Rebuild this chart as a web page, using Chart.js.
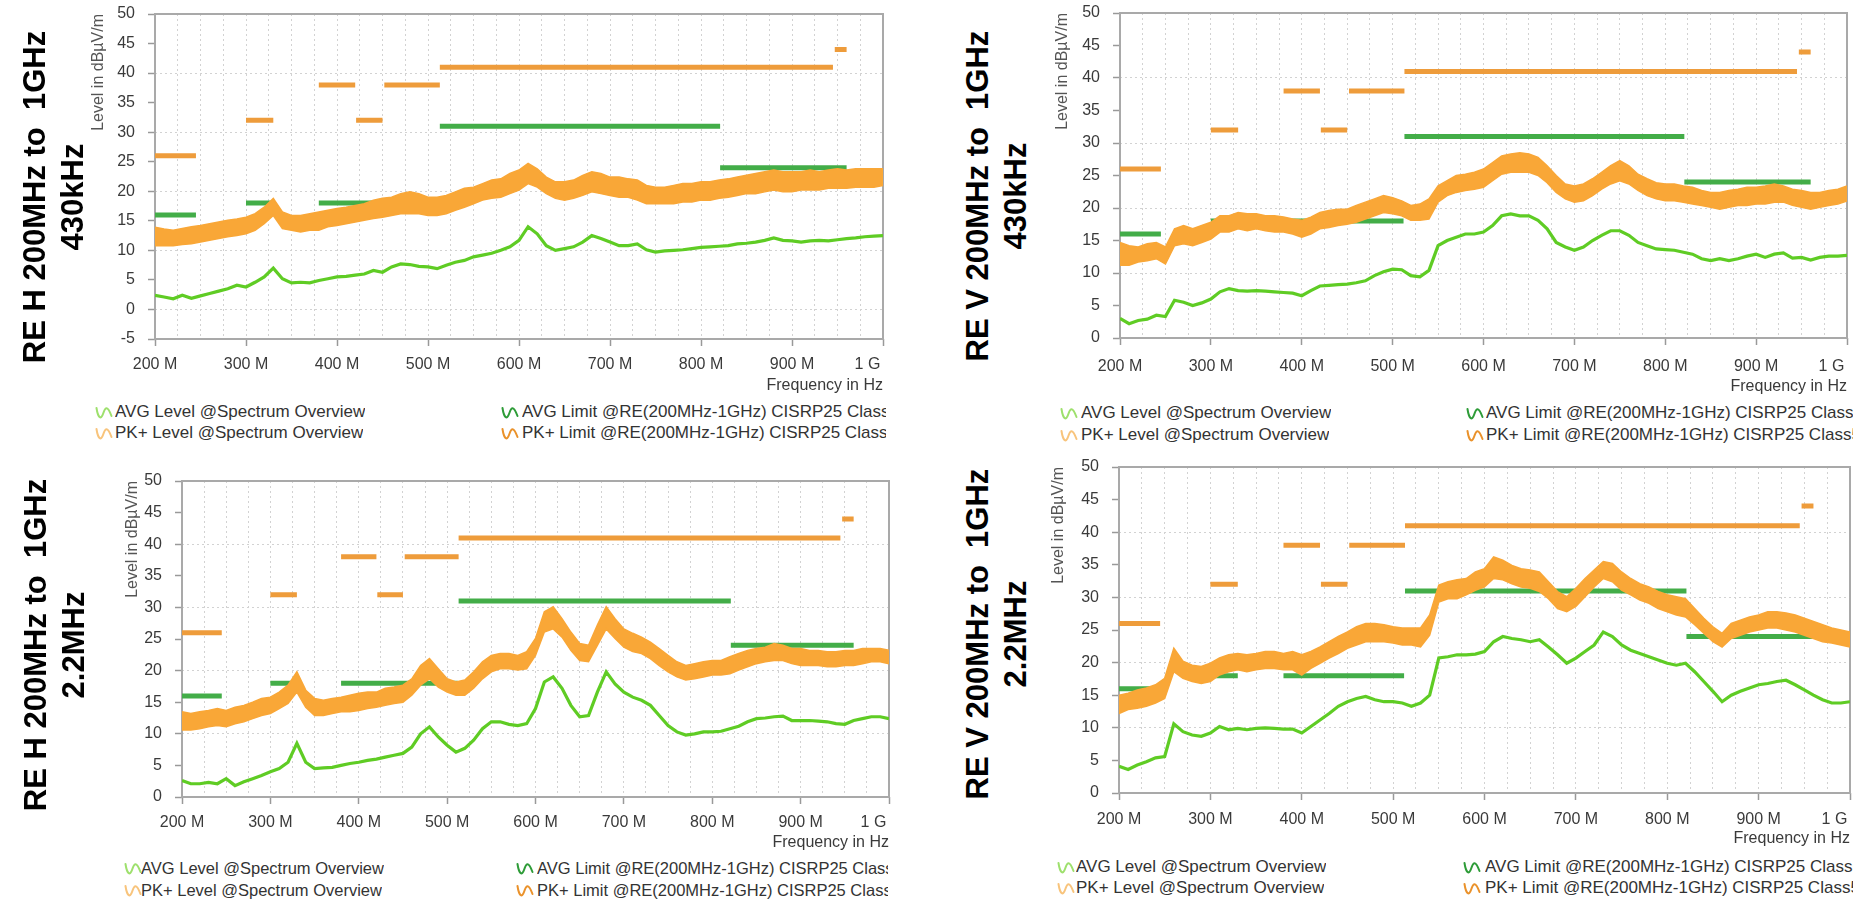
<!DOCTYPE html>
<html>
<head>
<meta charset="utf-8">
<script src="https://cdn.jsdelivr.net/npm/chart.js@4.4.1/dist/chart.umd.min.js"></script>
<style>
  html, body { margin: 0; padding: 0; background: #fff; width: 1856px; height: 915px; overflow: hidden; }
  canvas { position: absolute; }
  .ttl { position: absolute; font: bold 31px 'Liberation Sans', Arial, sans-serif; line-height: 38px;
         color: #000; text-align: center; white-space: pre; transform: translate(-50%, -50%) rotate(-90deg); }
  .leg { position: absolute; font-family: 'Liberation Sans', Arial, sans-serif; line-height: 20px; color: #333;
         white-space: pre; overflow: hidden; }
  .ico { position: absolute; }
</style>
</head>
<body>
<script>
// ---------------- data ----------------
const freqMHz = [200,210,220,230,240,250,260,270,280,290,300,310,320,330,340,350,360,370,380,390,
  400,410,420,430,440,450,460,470,480,490,500,510,520,530,540,550,560,570,580,590,
  600,610,620,630,640,650,660,670,680,690,700,710,720,730,740,750,760,770,780,790,
  800,810,820,830,840,850,860,870,880,890,900,910,920,930,940,950,960,970,980,990,1000];

const xTickMHz = [200,300,400,500,600,700,800,900,1000];

// limit lines: [start MHz, stop MHz, level dBuV/m]
const pkLimitSegs  = [[200,245,26],[300,330,32],[380,420,38],[421,450,32],[452,513,38],[513,945,41],[947,960,44]];
const avgLimitSegs = [[200,245,16],[300,330,18],[380,512,18],[513,821,31],[821,960,24]];

// RE H 430kHz
const p1PkHi = [13.9,13.6,13.4,13.7,14.0,14.2,14.5,14.8,15.1,15.3,15.6,16.2,17.3,18.8,16.5,15.9,15.9,16.2,16.5,16.8,
  17.1,17.3,17.6,17.9,18.5,18.8,19.0,19.6,19.9,19.6,19.0,19.0,19.3,19.9,20.5,20.7,21.3,21.9,22.1,23.0,
  23.6,24.7,23.8,22.4,21.6,21.6,21.9,22.7,23.3,23.0,22.4,22.4,22.1,21.9,21.0,20.7,20.7,21.0,21.3,21.3,
  21.6,21.6,21.9,22.1,22.4,22.7,23.0,23.3,23.6,23.3,23.3,23.3,23.6,23.3,23.6,23.8,23.6,23.8,23.8,23.8,23.8];
const p1PkLo = [10.8,10.8,10.8,11.0,11.1,11.4,11.7,12.0,12.3,12.5,12.8,13.4,14.5,15.9,13.7,13.4,13.1,13.4,13.4,14.0,
  14.2,14.5,14.8,15.1,15.4,15.6,15.9,16.2,16.2,16.2,15.9,15.9,16.2,16.8,17.3,17.9,18.5,18.8,19.0,19.6,
  20.2,21.3,20.7,19.6,18.8,18.5,18.8,19.3,19.9,19.6,19.3,19.0,19.0,18.5,17.9,17.9,17.9,17.9,18.2,18.2,
  18.5,18.5,18.8,19.0,19.3,19.6,19.6,19.9,20.2,19.9,19.9,20.2,20.2,20.2,20.5,20.5,20.5,20.7,20.7,20.7,21.0];
const p1Avg = [2.4,2.1,1.8,2.4,1.9,2.3,2.7,3.1,3.5,4.1,3.8,4.6,5.5,7.0,5.2,4.5,4.6,4.5,4.9,5.2,
  5.5,5.6,5.8,6.0,6.6,6.3,7.2,7.7,7.6,7.3,7.2,6.9,7.5,8.0,8.3,8.9,9.2,9.5,10.0,10.6,
  11.7,14.0,12.8,10.8,10.0,10.3,10.6,11.4,12.5,12.0,11.4,10.8,10.8,11.1,10.1,9.7,9.9,10.0,10.1,10.3,
  10.5,10.6,10.7,10.8,11.1,11.2,11.4,11.7,12.1,11.7,11.6,11.4,11.6,11.7,11.6,11.8,12.0,12.1,12.3,12.4,12.5];

// RE V 430kHz
const p2PkHi = [14.7,14.2,14.0,14.5,14.7,14.0,16.8,17.3,16.8,17.3,17.8,18.8,18.8,19.3,19.1,19.1,18.8,18.8,18.6,18.3,
  18.1,18.6,19.3,19.6,19.8,19.8,20.4,20.9,21.4,21.9,21.6,21.1,20.4,20.6,21.4,23.4,24.2,25.0,25.2,25.5,
  26.0,27.0,28.0,28.3,28.5,28.3,27.8,26.5,25.0,23.7,23.4,23.7,24.5,25.5,26.5,27.3,26.5,25.2,24.5,23.9,
  23.7,23.7,23.4,23.2,22.7,22.4,22.4,22.7,22.9,23.2,23.2,23.4,23.7,23.4,22.9,22.7,22.4,22.4,22.7,22.9,23.4];
const p2PkLo = [11.2,11.2,11.7,11.9,12.2,11.4,14.2,14.5,14.2,14.7,15.2,16.3,16.3,16.8,16.5,16.8,16.5,16.3,16.3,16.0,
  15.5,16.0,16.8,17.0,17.3,17.5,17.8,18.3,18.8,19.3,19.1,18.8,18.1,18.1,18.3,20.9,21.9,22.4,22.7,22.9,
  23.2,24.2,25.2,25.5,25.5,25.5,25.0,23.9,22.4,21.4,20.9,21.1,21.9,22.9,23.7,24.2,23.7,22.7,21.9,21.4,
  21.1,21.1,20.9,20.6,20.4,20.1,19.8,20.1,20.4,20.4,20.6,20.6,20.9,20.9,20.4,20.1,19.8,20.1,20.4,20.6,21.1];
const p2Avg = [3.0,2.2,2.7,2.9,3.5,3.3,5.8,5.5,5.0,5.4,6.0,7.1,7.6,7.3,7.2,7.3,7.2,7.1,7.0,6.9,
  6.5,7.3,8.0,8.1,8.2,8.3,8.5,8.8,9.6,10.2,10.6,10.5,9.6,9.4,10.4,14.2,15.0,15.5,16.0,16.0,
  16.3,17.3,18.8,19.1,18.8,18.8,18.1,16.8,14.7,14.0,13.5,14.0,15.0,15.8,16.5,16.5,15.8,14.7,14.2,13.7,
  13.6,13.5,13.2,12.9,12.2,11.9,12.2,11.9,12.2,12.6,12.9,12.4,12.9,13.1,12.3,12.4,12.0,12.4,12.6,12.6,12.7];

// RE H 2.2MHz
const p3PkHi = [13.5,13.2,13.5,13.7,14.0,13.7,14.2,14.5,15.0,15.6,15.8,16.6,17.7,19.8,16.9,15.6,15.3,15.6,15.8,16.1,
  16.4,16.6,16.6,17.2,17.4,17.7,18.7,20.8,21.9,20.3,18.7,18.2,18.5,19.8,21.4,22.4,22.7,22.7,22.4,23.0,
  25.1,29.3,30.1,28.2,26.1,24.3,24.0,27.2,30.1,28.2,26.6,25.9,25.3,24.5,23.5,22.4,21.4,20.8,21.1,21.4,
  21.6,21.6,22.2,22.7,23.2,23.5,23.7,24.3,24.0,23.5,23.5,23.2,23.2,23.0,23.0,23.2,23.2,23.5,23.5,23.5,23.2];
const p3PkLo = [10.6,10.6,10.8,11.1,11.3,11.1,11.6,11.9,12.4,12.9,13.2,14.0,14.8,16.6,14.2,12.9,12.9,13.2,13.5,13.5,
  13.7,14.0,14.2,14.5,14.8,15.0,16.1,17.7,18.7,17.4,16.6,16.1,16.1,17.2,18.7,19.8,20.3,20.3,20.1,20.3,
  22.4,26.1,26.6,25.3,23.2,21.6,21.4,24.0,26.6,25.1,23.7,23.0,22.7,21.9,20.8,19.8,19.0,18.5,18.7,19.0,
  19.3,19.3,19.5,20.1,20.6,21.1,21.4,21.6,21.6,21.1,20.8,20.8,20.8,20.6,20.6,20.8,20.8,21.1,21.4,21.4,21.1];
const p3Avg = [2.6,2.1,2.1,2.3,2.1,2.9,1.8,2.4,2.9,3.4,4.0,4.5,5.5,8.5,5.5,4.5,4.6,4.7,5.0,5.3,
  5.5,5.8,6.0,6.3,6.6,6.9,7.9,10.0,11.1,9.5,8.2,7.1,7.7,9.0,10.8,11.9,11.9,11.5,11.3,11.6,
  14.0,18.2,19.0,17.2,14.5,12.7,12.9,16.6,19.8,17.9,16.6,15.8,15.3,14.5,12.9,11.3,10.3,9.8,10.0,10.3,
  10.3,10.4,10.8,11.2,11.9,12.4,12.5,12.7,12.8,12.1,12.1,12.1,12.0,11.9,11.6,11.5,12.1,12.4,12.7,12.7,12.4];

// RE V 2.2MHz
const p4PkHi = [15.0,15.3,15.8,16.1,16.6,17.6,22.2,20.2,19.6,19.4,19.9,20.7,21.2,21.4,21.2,21.4,21.7,21.7,21.4,21.7,
  21.2,21.7,22.4,23.2,24.0,24.7,25.5,26.0,26.0,25.8,25.5,25.3,25.3,25.3,27.3,31.9,32.4,32.7,32.9,33.9,
  34.4,36.2,35.7,34.9,34.4,34.2,33.9,32.4,30.9,30.1,31.4,32.9,34.2,35.5,35.2,33.9,32.9,32.1,31.6,30.9,
  30.4,30.1,29.8,28.3,26.8,25.5,24.5,26.0,26.5,27.0,27.3,27.8,27.8,27.6,27.3,26.8,26.3,25.8,25.3,25.0,24.7];
const p4PkLo = [12.2,12.8,13.0,13.3,13.8,14.5,18.6,17.6,17.1,16.8,17.1,18.1,18.6,18.9,18.6,18.9,19.1,19.1,18.9,18.9,
  18.1,19.1,19.9,20.7,21.4,22.2,22.7,23.2,23.2,23.2,23.0,22.7,22.7,22.4,24.2,29.3,29.8,29.8,30.4,31.1,
  31.6,32.9,32.7,32.1,31.6,31.4,30.9,29.8,28.3,27.8,28.6,30.1,31.6,32.9,32.4,31.1,30.4,29.6,29.1,28.3,
  27.8,27.3,27.0,25.8,24.5,23.2,22.4,23.7,24.2,24.7,25.0,25.3,25.3,25.0,24.7,24.2,23.7,23.2,23.0,22.7,22.4];
const p4Avg = [4.1,3.6,4.3,4.8,5.4,5.6,10.6,9.4,8.9,8.7,9.2,10.2,9.7,9.9,9.7,9.9,10.0,9.9,9.8,9.8,
  9.2,10.2,11.2,12.2,13.3,14.0,14.5,14.8,14.3,14.0,14.0,13.8,13.3,13.8,15.0,20.7,20.9,21.2,21.2,21.3,
  21.7,23.2,24.0,23.7,23.5,23.2,23.5,22.4,21.2,19.9,20.7,21.7,22.7,24.7,24.0,22.7,21.9,21.4,20.9,20.4,
  19.9,19.6,19.9,18.6,17.1,15.6,14.0,15.0,15.6,16.1,16.6,16.8,17.1,17.3,16.6,15.8,15.0,14.3,13.8,13.8,14.0];

const panelTitles = [["RE H 200MHz to  1GHz","430kHz"],["RE V 200MHz to  1GHz","430kHz"],
                     ["RE H 200MHz to  1GHz","2.2MHz"],["RE V 200MHz to  1GHz","2.2MHz"]];
const legendLeft  = ["AVG Level @Spectrum Overview","PK+ Level @Spectrum Overview"];
const legendRight = ["AVG Limit @RE(200MHz-1GHz) CISRP25 Class5","PK+ Limit @RE(200MHz-1GHz) CISRP25 Class5"];

// ---------------- layout (pixel geometry only) ----------------
const layout = [
  {l:155, t:14, r:883, b:339, ymin:-5, yTitleCx:99, xLabDy:26, xTitDy:46,
   ttl:{x:54, y:197}, legY:[412,433], legIcoL:95, legTxtL:115, legIcoR:501, legTxtR:522, legClip:886, legFs:17},
  {l:1120, t:13, r:1847, b:338, ymin:0, yTitleCx:1063, xLabDy:29, xTitDy:48,
   ttl:{x:997, y:196}, legY:[413,435], legIcoL:1060, legTxtL:1081, legIcoR:1466, legTxtR:1486, legClip:1853, legFs:17},
  {l:182, t:481, r:889, b:797, ymin:0, yTitleCx:133, xLabDy:26, xTitDy:45,
   ttl:{x:55, y:645}, legY:[868,890], legIcoL:124, legTxtL:141, legIcoR:516, legTxtR:537, legClip:888, legFs:16.5},
  {l:1119, t:467, r:1850, b:793, ymin:0, yTitleCx:1059, xLabDy:27, xTitDy:45,
   ttl:{x:997, y:634}, legY:[867,888], legIcoL:1057, legTxtL:1076, legIcoR:1463, legTxtR:1485, legClip:1853, legFs:17}
];
const series = [[p1PkHi,p1PkLo,p1Avg],[p2PkHi,p2PkLo,p2Avg],[p3PkHi,p3PkLo,p3Avg],[p4PkHi,p4PkLo,p4Avg]];

const C = { pk:'#f9a737', avg:'#5fcc24', pkLim:'#ee9c3b', avgLim:'#43ad48', grid:'#d2d2d2', frame:'#a9a9a9', text:'#3a3a3a' };
const FONT = "'Liberation Sans', Arial, sans-serif";

function pts(arr) { return freqMHz.map((f, i) => ({x: f, y: arr[i]})); }
function segPts(segs) {
  const out = [];
  segs.forEach(([a, b, v]) => { out.push({x: a, y: v}, {x: b, y: v}, {x: b, y: null}); });
  return out;
}

const framePlugin = {
  id: 'frame',
  beforeDatasetsDraw(chart) {
    const {ctx, chartArea: a} = chart;
    ctx.save();
    ctx.strokeStyle = C.frame; ctx.lineWidth = 2;
    ctx.strokeRect(a.left, a.top, a.right - a.left, a.bottom - a.top);
    ctx.restore();
  }
};

function waveSvg(color) {
  return '<svg width="18" height="20" viewBox="0 0 18 20"><path d="M1.5 6 C3 16, 6 18, 8 12 S12 2, 16.5 14" fill="none" stroke="' +
    color + '" stroke-width="2" stroke-linecap="round"/></svg>';
}

function addDiv(cls, html, style) {
  const d = document.createElement('div');
  d.className = cls; d.innerHTML = html;
  Object.assign(d.style, style);
  document.body.appendChild(d);
  return d;
}

layout.forEach((L, i) => {
  const [pkHi, pkLo, avg] = series[i];
  const Wy = Math.round(L.l - L.yTitleCx + 9.6);
  const Hx = Math.round(L.xTitDy + 9.6);
  const padTop = 10;
  const x0 = L.l - Wy, y0 = L.t - padTop;
  const padRight = Math.min(8, 1856 - L.r);
  const cw = L.r - x0 + padRight;
  const ch = L.b - y0 + Hx;

  const cv = document.createElement('canvas');
  cv.width = cw; cv.height = ch;
  cv.style.left = x0 + 'px'; cv.style.top = y0 + 'px';
  cv.style.width = cw + 'px'; cv.style.height = ch + 'px';
  document.body.appendChild(cv);

  const zeroPad = s => { s.paddingLeft = 0; s.paddingRight = 0; s.paddingTop = 0; s.paddingBottom = 0; };

  new Chart(cv, {
    type: 'line',
    data: {
      datasets: [
        {label: 'PK+ Level lower', data: pts(pkLo), borderColor: C.pk, borderWidth: 1.5, pointRadius: 0, fill: false},
        {label: 'PK+ Level @Spectrum Overview', data: pts(pkHi), borderColor: C.pk, borderWidth: 1.5, pointRadius: 0,
         fill: '-1', backgroundColor: C.pk},
        {label: 'AVG Level @Spectrum Overview', data: pts(avg), borderColor: C.avg, borderWidth: 3.2, pointRadius: 0, fill: false},
        {label: 'AVG Limit', data: segPts(avgLimitSegs), borderColor: C.avgLim, borderWidth: 5, pointRadius: 0, fill: false, spanGaps: false},
        {label: 'PK+ Limit', data: segPts(pkLimitSegs), borderColor: C.pkLim, borderWidth: 5, pointRadius: 0, fill: false, spanGaps: false}
      ]
    },
    options: {
      responsive: false, animation: false, devicePixelRatio: 1,
      layout: {padding: {left: 0, top: padTop, right: padRight, bottom: 0}},
      elements: {line: {tension: 0, borderCapStyle: 'butt'}},
      plugins: {legend: {display: false}, tooltip: {enabled: false}},
      scales: {
        x: {
          type: 'linear', min: 200, max: 1000, position: 'bottom',
          afterFit: s => { s.height = Hx; zeroPad(s); },
          ticks: {
            stepSize: 25, autoSkip: false, maxRotation: 0, minRotation: 0,
            padding: L.xLabDy - 7 - 9.6, color: C.text, font: {family: FONT, size: 16},
            callback: v => xTickMHz.includes(v) ? (v === 1000 ? '1 G\u00a0\u00a0\u00a0\u00a0\u00a0\u00a0\u00a0' : v + ' M') : ''
          },
          grid: {color: C.grid, lineWidth: 1, tickLength: 7, tickWidth: 1.5,
                 tickColor: c => (c.tick && xTickMHz.includes(c.tick.value)) ? '#999' : 'rgba(0,0,0,0)'},
          border: {display: false, dash: [2, 3]},
          title: {display: true, text: 'Frequency in Hz', align: 'end', padding: 0, color: C.text, font: {family: FONT, size: 16}}
        },
        y: {
          type: 'linear', min: L.ymin, max: 50,
          afterFit: s => { s.width = Wy; zeroPad(s); },
          ticks: {stepSize: 5, autoSkip: false, padding: 13, color: C.text, font: {family: FONT, size: 16}},
          grid: {color: c => (c.tick && c.tick.value % 10 === 0) ? C.grid : 'rgba(0,0,0,0)',
                 lineWidth: 1, tickLength: 7, tickWidth: 1.5, tickColor: '#999'},
          border: {display: false, dash: [2, 3]},
          title: {display: true, text: 'Level in dB\u00b5V/m', align: 'end', padding: 0, color: '#555', font: {family: FONT, size: 16}}
        }
      }
    },
    plugins: [framePlugin]
  });

  // rotated panel title
  addDiv('ttl', panelTitles[i][0] + '\n' + panelTitles[i][1], {left: L.ttl.x + 'px', top: L.ttl.y + 'px'});

  // legend
  const icoCols = [['#9ee06d', '#f8c47c'], ['#2e9c38', '#ea922b']];
  [0, 1].forEach(r => {
    const y = L.legY[r] - 10;
    addDiv('ico', waveSvg(icoCols[0][r]), {left: L.legIcoL + 'px', top: y + 'px'});
    addDiv('leg', legendLeft[r], {left: L.legTxtL + 'px', top: y + 'px', fontSize: L.legFs + 'px'});
    addDiv('ico', waveSvg(icoCols[1][r]), {left: L.legIcoR + 'px', top: y + 'px'});
    addDiv('leg', legendRight[r], {left: L.legTxtR + 'px', top: y + 'px', fontSize: L.legFs + 'px',
                                   width: (L.legClip - L.legTxtR) + 'px'});
  });
});
</script>
</body>
</html>
